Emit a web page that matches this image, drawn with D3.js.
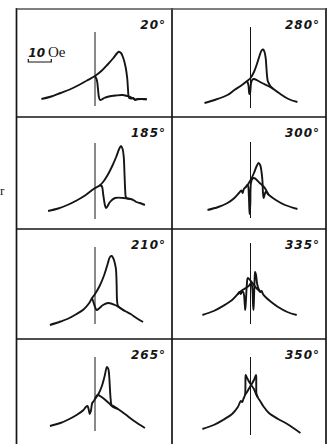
<!DOCTYPE html>
<html>
<head>
<meta charset="utf-8">
<script src="https://cdn.jsdelivr.net/npm/d3@7"></script>
<style>
  body { margin: 0; background: #fff; }
  svg { display: block; }
</style>
</head>
<body>
<svg id="chart" width="332" height="444"></svg>
<script>
// panel labels (field angle), row-major order
const angles = ['20°', '280°', '185°', '300°', '210°', '335°', '265°', '350°'];

// each curve: [field H in Oe, signal in arbitrary units]
const fwd20 = [[-23.3, 10], [-19, 12.5], [-15, 16], [-11, 19.5], [-7, 24], [-3.5, 28.5], [0, 33], [3, 38.5], [5.5, 44.5], [8, 51], [9.5, 55.5], [10.3, 57.3], [11.3, 56], [12.3, 51], [13.3, 42], [14, 31], [14.4, 18], [14.7, 11.5], [15.5, 10.5], [16.5, 11], [17.5, 9.5], [18.5, 9.8], [20, 10], [22.5, 9.8]];
const bwd20 = [[0, 33], [0.8, 29], [1.3, 20], [1.7, 12], [2.2, 9], [3, 9.5], [4, 11], [6, 12.5], [9, 13.5], [12, 14], [14, 13], [15.5, 12], [16.5, 10.5], [17.5, 9], [18.5, 10], [20, 10], [22.5, 9.8]];

const fwd280 = [[-20, 6], [-15, 9.5], [-10, 14], [-7, 19], [-4, 23.5], [-1.5, 28], [0, 31], [1.5, 37], [2.8, 45], [3.9, 53], [4.8, 58.5], [5.5, 59.5], [6.1, 57], [6.6, 51], [6.9, 42], [7.2, 33], [7.5, 28], [7.9, 26], [8.6, 23], [10, 20], [13, 15], [16.5, 10], [20.4, 7]];
const bwd280 = [[-1.5, 28], [-0.9, 24], [-0.5, 15], [-0.2, 16], [0.2, 25], [0.7, 29], [1.5, 30], [3, 28.5], [5, 26], [7.7, 23], [10, 20]];

const fwd185 = [[-20.4, 6], [-16, 8.5], [-12, 12], [-8, 16.5], [-4, 22], [0, 29], [2, 31.5], [3.5, 35], [5.5, 42], [7.5, 51], [9.2, 60], [10.5, 68], [11.3, 71], [12, 68], [12.5, 60], [12.8, 45], [13.1, 28], [13.4, 20], [14, 18.5], [15.5, 18], [17, 16.5], [18, 15], [19.5, 14], [21.7, 12]];
const bwd185 = [[2, 31.5], [2.9, 31], [3.6, 22], [4.3, 12], [4.8, 9], [5.5, 11], [6.5, 15], [8.7, 19], [12.3, 19], [14, 18.5], [15.5, 18]];

const fwd300 = [[-18.7, 7], [-14, 10], [-10, 14], [-7, 19], [-5, 24], [-4, 26.5], [-3.4, 24], [-2.9, 28], [-2, 30], [-1, 33], [0.3, 38], [1.5, 44], [2.7, 51], [3.5, 54], [4.2, 52], [4.8, 45], [5.2, 36], [5.4, 25], [5.7, 19], [6.1, 22], [6.6, 25], [8, 22], [11, 17], [15, 12], [20.4, 8]];
const bwd300 = [[-2, 30], [-1.2, 32], [-0.7, 20], [-0.4, 3], [-0.1, 12], [0.2, 34], [0.8, 38], [1.5, 39], [2.5, 37.5], [4, 34], [5.5, 31], [6.5, 28], [7.2, 25], [8, 22]];

const fwd210 = [[-19.6, 4], [-15, 7.5], [-12, 10], [-8, 15], [-5, 19.5], [-2.5, 26], [-1.3, 31], [0, 35], [2, 43], [4, 54], [5.5, 65], [6.5, 72], [7.3, 73], [8, 70.5], [8.6, 66], [9.1, 60], [9.4, 45], [9.6, 28], [10, 23], [11, 21], [13, 18], [15.5, 15], [18, 11], [20.9, 7]];
const bwd210 = [[-1.3, 31], [-0.7, 27], [0, 22], [0.7, 19], [2, 21], [3.5, 24], [5.8, 26], [8.7, 24], [10.9, 21], [13, 18]];

const fwd335 = [[-20.9, 14], [-16, 18], [-12, 23], [-8, 29], [-5.5, 35], [-4.8, 37], [-4.2, 35], [-3.6, 38], [-3, 36], [-2.5, 25], [-2.3, 19], [-2, 28], [-1.6, 44], [-1.2, 51], [-0.6, 50], [0.5, 47], [1.5, 44], [2.5, 41], [3.5, 39], [4.3, 37], [4.8, 38], [5.4, 35], [6.5, 32], [9, 27], [12, 22], [16, 17], [20.1, 14]];
const bwd335 = [[-5.5, 35], [-3.5, 39], [-2, 41], [-0.8, 43], [0.3, 46], [0.8, 40], [1.1, 25], [1.3, 19], [1.5, 30], [1.8, 50], [2, 57], [2.4, 54], [2.9, 45], [3.5, 40], [4.3, 37]];

const fwd265 = [[-19.6, 13], [-15, 16], [-12, 19], [-8, 24], [-5, 29], [-4, 32], [-3.3, 33], [-2.8, 30], [-2.3, 25], [-1.8, 28], [-1.2, 36], [-0.5, 38], [0, 40], [1.5, 45], [3, 53], [4.2, 63], [5.2, 72], [5.8, 70], [6.2, 62], [6.5, 50], [6.8, 40], [7.2, 34], [8, 33], [10, 30], [13, 25], [17, 18], [21.7, 11]];
const bwd265 = [[0, 40], [0.7, 43], [1.3, 44], [2.5, 42.5], [4, 40], [6, 36], [7.8, 32], [10, 30]];

const fwd350 = [[-20.9, 10], [-16, 14], [-12, 19], [-8, 25], [-5.5, 32], [-4.2, 38], [-3.6, 37], [-3.1, 40], [-2.4, 44], [-2.2, 55], [-2.1, 64], [-1.5, 61], [0, 55], [1.5, 50], [2.4, 45], [3.1, 42], [3.6, 40], [4.2, 38], [5.5, 33], [8, 26], [12, 20], [16, 15], [21.7, 6]];
const bwd350 = [[-2.4, 44], [-1.5, 47], [0, 53], [1.5, 59], [2.4, 64], [2.5, 55], [2.6, 45], [3.1, 42]];

// extent of the H = 0 guide line in each panel, signal units
const guideLow = [3, 1, -2, -1, 5, 5, 8, 4];
const guideHigh = [77, 82, 74, 75, 82, 86, 82, 82];

const forward = [fwd20, fwd280, fwd185, fwd300, fwd210, fwd335, fwd265, fwd350];
const backward = [bwd20, bwd280, bwd185, bwd300, bwd210, bwd335, bwd265, bwd350];

const colEdges = [16.5, 172, 326];
const rowEdges = [9, 117, 229, 339, 470];
const zeroOffset = 78.5; // px from panel left to H = 0
const pxPerOe = 2.3;
const ink = '#151515';

const svg = d3.select('#chart');

angles.forEach((label, i) => {
  const col = i % 2;
  const row = Math.floor(i / 2);
  const left = colEdges[col];
  const right = colEdges[col + 1];
  const top = rowEdges[row];

  const x = d3.scaleLinear()
    .domain([-zeroOffset / pxPerOe, (right - left - zeroOffset) / pxPerOe])
    .range([left, right]);
  const y = d3.scaleLinear().domain([0, 100]).range([top + 100, top]);

  const line = d3.line()
    .x((d) => x(d[0]))
    .y((d) => y(d[1]))
    .curve(d3.curveCatmullRom.alpha(0.5));

  const g = svg.append('g');

  // H = 0 guide
  g.append('line')
    .attr('x1', x(0)).attr('x2', x(0))
    .attr('y1', y(guideLow[i])).attr('y2', y(guideHigh[i]))
    .attr('stroke', ink)
    .attr('stroke-width', 1);

  [forward[i], backward[i]].forEach((curve) => {
    g.append('path')
      .datum(curve)
      .attr('fill', 'none')
      .attr('stroke', ink)
      .attr('stroke-width', 1.9)
      .attr('stroke-linejoin', 'round')
      .attr('d', line);
  });

  g.append('text')
    .attr('x', right - 6)
    .attr('y', top + 20)
    .attr('text-anchor', 'end')
    .attr('font-family', 'DejaVu Sans')
    .attr('font-style', 'italic')
    .attr('font-weight', 'bold')
    .attr('font-size', 12)
    .attr('letter-spacing', 1)
    .attr('fill', ink)
    .text(label);

  // scale bar in the first panel
  if (i === 0) {
    const barY = y(47);
    g.append('path')
      .attr('d', `M${x(-29)},${barY - 3}V${barY}H${x(-19)}V${barY - 3}`)
      .attr('fill', 'none')
      .attr('stroke', ink)
      .attr('stroke-width', 1.2);
    const t = g.append('text')
      .attr('x', x(-29))
      .attr('y', y(52))
      .attr('fill', ink);
    t.append('tspan')
      .attr('font-family', 'DejaVu Sans')
      .attr('font-style', 'italic')
      .attr('font-weight', 'bold')
      .attr('font-size', 12)
      .text('10');
    t.append('tspan')
      .attr('dx', 3)
      .attr('font-family', 'Liberation Serif')
      .attr('font-size', 15)
      .text('Oe');
  }
});

// panel frame
colEdges.forEach((cx) => {
  svg.append('line')
    .attr('x1', cx).attr('x2', cx)
    .attr('y1', rowEdges[0] - 1).attr('y2', 444)
    .attr('stroke', ink)
    .attr('stroke-width', 1.7);
});
rowEdges.slice(0, 4).forEach((ry, k) => {
  svg.append('line')
    .attr('x1', colEdges[0]).attr('x2', colEdges[2])
    .attr('y1', ry).attr('y2', ry)
    .attr('stroke', k === 0 ? '#555' : ink)
    .attr('stroke-width', k === 0 ? 1.3 : 1.7);
});

// stray glyph at the left margin of the scan
svg.append('text')
  .attr('x', 0)
  .attr('y', 195)
  .attr('font-family', 'Liberation Serif')
  .attr('font-size', 13)
  .attr('fill', ink)
  .text('r');
</script>
</body>
</html>
